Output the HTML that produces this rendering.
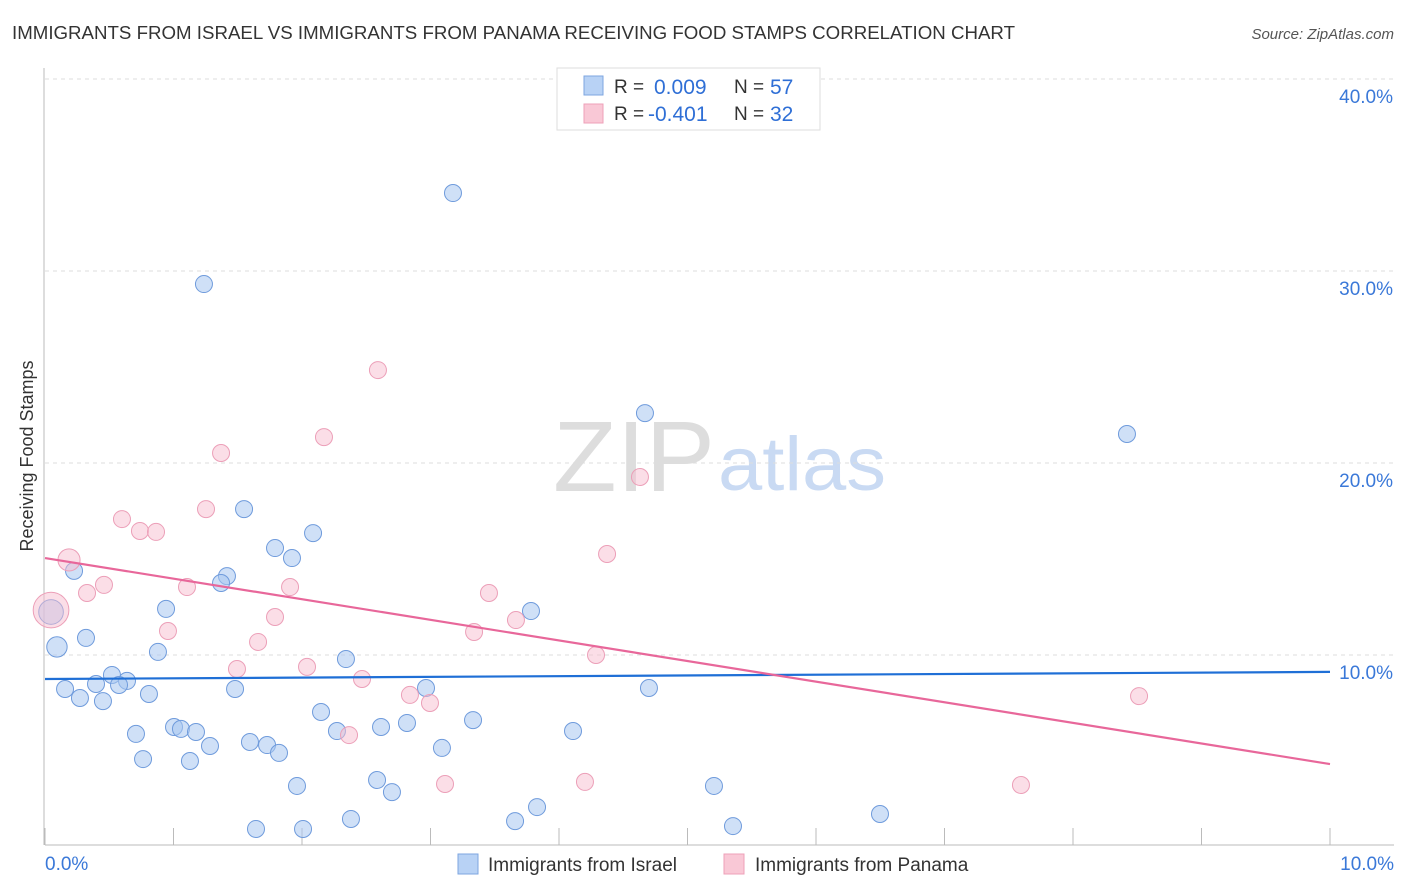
<!DOCTYPE html>
<html><head><meta charset="utf-8"><style>
body{margin:0;background:#fff;font-family:"Liberation Sans",sans-serif;}
#wrap{position:relative;width:1406px;height:892px;overflow:hidden;}
svg text{font-family:"Liberation Sans",sans-serif;}
</style></head><body>
<div id="wrap">
<svg id="chart" width="1406" height="892">
<text x="12" y="39" font-size="18" fill="#333" textLength="1003" lengthAdjust="spacingAndGlyphs">IMMIGRANTS FROM ISRAEL VS IMMIGRANTS FROM PANAMA RECEIVING FOOD STAMPS CORRELATION CHART</text>
<text x="1394" y="39" font-size="15" fill="#555" font-style="italic" text-anchor="end">Source: ZipAtlas.com</text>
<text x="33" y="456" font-size="18" fill="#333" text-anchor="middle" transform="rotate(-90 33 456)">Receiving Food Stamps</text>
<g>
<text x="553" y="491" font-size="100" fill="#ddd" font-family="Liberation Serif" textLength="162" lengthAdjust="spacingAndGlyphs">ZIP</text>
<text x="718" y="490" font-size="76" fill="#c9daf3" textLength="168" lengthAdjust="spacingAndGlyphs">atlas</text>
</g>
<g id="grid"></g><g id="axes"></g><g id="marks"></g><g id="lines"></g>
<g>
<rect x="557" y="68" width="263" height="62" fill="#fff" stroke="#ddd"/>
<rect x="584" y="76" width="19" height="19" fill="#b8d2f5" stroke="#7ea6e0"/>
<rect x="584" y="104" width="19" height="19" fill="#f9c8d6" stroke="#eea0b8"/>
<text x="614" y="93" font-size="19" fill="#333">R =</text>
<text x="654" y="94" font-size="21" fill="#2f6fd6">0.009</text>
<text x="734" y="93" font-size="19" fill="#333">N =</text>
<text x="770" y="94" font-size="21" fill="#2f6fd6">57</text>
<text x="614" y="120" font-size="19" fill="#333">R =</text>
<text x="648" y="121" font-size="21" fill="#2f6fd6">-0.401</text>
<text x="734" y="120" font-size="19" fill="#333">N =</text>
<text x="770" y="121" font-size="21" fill="#2f6fd6">32</text>
</g>
<g>
<rect x="458" y="854" width="20" height="20" fill="#b8d2f5" stroke="#7ea6e0"/>
<text x="488" y="871" font-size="19" fill="#333">Immigrants from Israel</text>
<rect x="724" y="854" width="20" height="20" fill="#f9c8d6" stroke="#eea0b8"/>
<text x="755" y="871" font-size="19" fill="#333">Immigrants from Panama</text>
</g>
</svg>
</div>
<script>
const israelX=[3.175,1.237,4.669,8.420,1.549,2.086,1.790,1.922,0.226,1.416,1.370,0.942,3.782,0.047,0.319,0.093,0.879,2.342,0.521,0.638,0.397,0.576,0.156,1.479,2.965,4.700,0.809,0.272,0.451,2.148,3.331,2.817,1.004,2.615,1.058,1.175,2.272,0.708,4.109,1.595,1.728,1.284,3.089,1.821,0.763,1.128,2.584,1.961,5.206,2.700,3.829,6.498,2.381,3.658,5.354,1.642,2.008];
const israelY=[34.06,29.32,22.6,21.51,17.6,16.35,15.57,15.05,14.38,14.11,13.75,12.40,12.29,12.24,10.89,10.42,10.16,9.79,8.96,8.65,8.49,8.44,8.23,8.23,8.28,8.28,7.97,7.76,7.60,7.03,6.61,6.46,6.25,6.25,6.15,5.99,6.04,5.89,6.04,5.47,5.31,5.26,5.16,4.90,4.58,4.48,3.49,3.18,3.18,2.86,2.08,1.72,1.46,1.35,1.09,0.94,0.94];
const israelSize=[1,1,1,1,1,1,1,1,1,1,1,1,1,1.45,1,1.2,1,1,1,1,1,1,1,1,1,1,1,1,1,1,1,1,1,1,1,1,1,1,1,1,1,1,1,1,1,1,1,1,1,1,1,1,1,1,1,1,1];
const panamaX=[2.591,2.171,1.370,4.630,1.253,0.599,0.739,0.864,0.187,4.374,0.459,0.327,1.105,1.907,3.455,1.790,3.665,0.047,0.957,3.339,1.658,4.288,1.494,2.039,2.467,8.514,2.840,2.996,2.366,3.113,4.202,7.595];
const panamaY=[24.84,21.35,20.52,19.27,17.60,17.08,16.46,16.41,14.95,15.26,13.65,13.23,13.54,13.54,13.23,11.98,11.82,12.34,11.25,11.20,10.68,10.00,9.27,9.38,8.75,7.86,7.92,7.50,5.83,3.28,3.39,3.23];
const panamaSize=[1,1,1,1,1,1,1,1,1.3,1,1,1,1,1,1,1,1,2.1,1,1,1,1,1,1,1,1,1,1,1,1,1,1];
const yTicks=[10,20,30,40];
const xTickLabels=["0.0%","10.0%"];
const israelTrend=[8.75,9.12];
const panamaTrend=[15.05,4.32];
const NS="http://www.w3.org/2000/svg";
const sx=v=>45+v*128.5, sy=v=>847-v*19.2;
function mk(tag,attrs,parent){const e=document.createElementNS(NS,tag);for(const k in attrs)e.setAttribute(k,attrs[k]);parent.appendChild(e);return e;}
const grid=document.getElementById('grid'),axes=document.getElementById('axes'),marks=document.getElementById('marks'),lines=document.getElementById('lines');
yTicks.forEach(t=>{
 const l=mk('line',{x1:45,x2:1394,y1:sy(t),y2:sy(t),stroke:'#ddd','stroke-dasharray':'4,4'},grid);
 
 
 const tx=mk('text',{x:1393,y:sy(t)+24,'font-size':19,fill:'#3a78d8','text-anchor':'end'},axes);
 tx.textContent=t.toFixed(1)+'%';
 
 
});
const xa=mk('line',{x1:45,x2:1394,y1:845,y2:845,stroke:'#bbb'},axes);


const ya=mk('line',{x1:44,x2:44,y1:68,y2:845,stroke:'#bbb'},axes);


for(let i=0;i<=10;i++){
 const tk=mk('line',{x1:sx(i),x2:sx(i),y1:828,y2:845,stroke:'#bbb'},axes);
 
 
}
xTickLabels.forEach((s,i)=>{
 const tx=mk('text',{x:i?1394:45,y:870,'font-size':19,fill:'#3a78d8','text-anchor':i?'end':'start'},axes);
 tx.textContent=s;
 
 
});
israelX.forEach((x,i)=>{
 const c=mk('circle',{cx:sx(x),cy:sy(israelY[i]),r:8.5*israelSize[i],fill:'rgba(168,198,240,0.55)',stroke:'#6f9bdc','stroke-width':1},marks);
 
 
});
panamaX.forEach((x,i)=>{
 const c=mk('circle',{cx:sx(x),cy:sy(panamaY[i]),r:8.5*panamaSize[i],fill:'rgba(248,190,208,0.5)',stroke:'#ec9fb8','stroke-width':1},marks);
 
 
});
const bl=mk('line',{x1:sx(0),x2:sx(10),y1:sy(israelTrend[0]),y2:sy(israelTrend[1]),stroke:'#1f6fd6','stroke-width':2.2},lines);


const pl=mk('line',{x1:sx(0),x2:sx(10),y1:sy(panamaTrend[0]),y2:sy(panamaTrend[1]),stroke:'#e8679a','stroke-width':2.2},lines);


</script>
</body></html>
